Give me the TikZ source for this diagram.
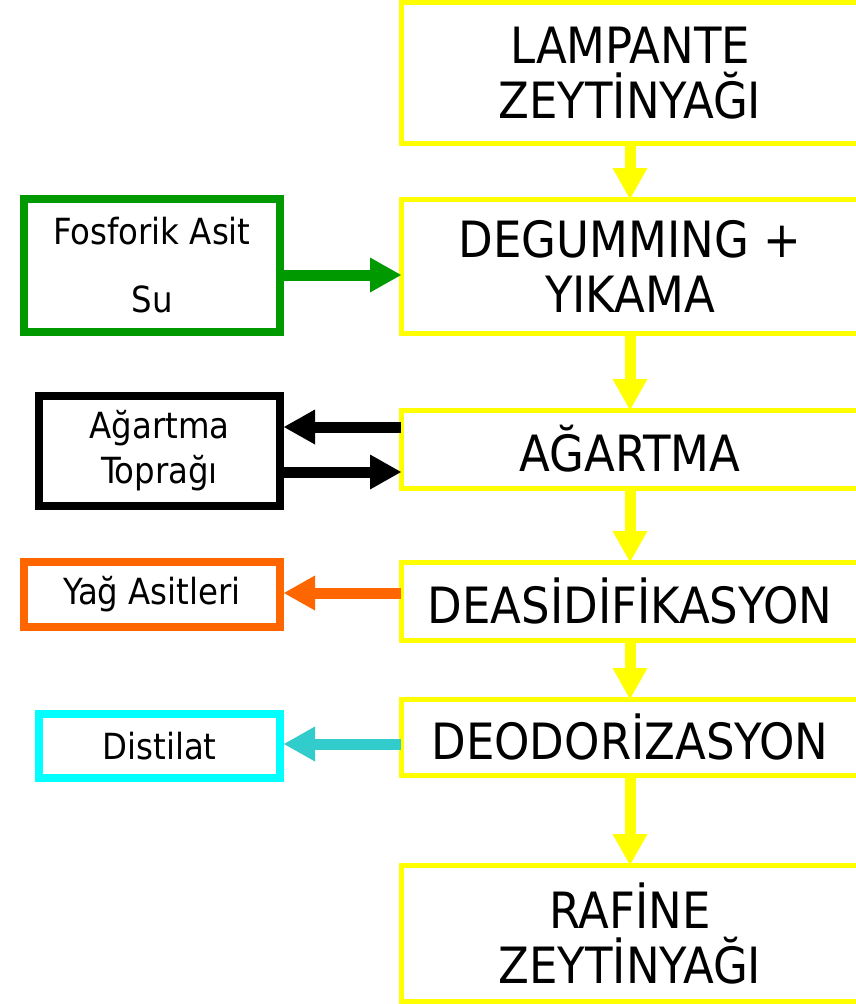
\documentclass[tikz,border=0pt]{standalone}
\usepackage{fontspec}
\setmainfont{DejaVu Sans Condensed}
\usetikzlibrary{arrows.meta, positioning, calc}
\definecolor{stepyellow}{RGB}{255,255,0}
\definecolor{acidgreen}{RGB}{0,153,0}
\definecolor{fatorange}{RGB}{255,102,0}
\definecolor{distcyan}{RGB}{0,255,255}
\definecolor{distteal}{RGB}{51,204,204}

\begin{document}
\begin{tikzpicture}[x=1pt, y=1pt, >={Triangle[length=31pt, width=35pt, line width=0pt]}]
  \tikzstyle{process} = [rectangle, draw=stepyellow, line width=5pt, fill=white, minimum width=458pt, outer sep=0pt, inner sep=0pt, align=center, font=\fontsize{50}{55}\selectfont]
  \tikzstyle{input} = [rectangle, line width=8pt, fill=white, outer sep=0pt, inner sep=0pt, align=center, font=\fontsize{36}{45}\selectfont]
  \tikzstyle{flow} = [->, line width=11pt]

  \clip (0,0) rectangle (856,-1004);

  \node [process, minimum height=140.5pt] (lampante) at (630,-72.75) {LAMPANTE\\ZEYTİNYAĞI};
  \node [process, minimum height=134pt, below=56pt of lampante] (degumming) {DEGUMMING +\\YIKAMA};
  \node [process, minimum height=78pt, below=77pt of degumming] (bleaching) {AĞARTMA};
  \node [process, minimum height=78pt, below=74pt of bleaching] (deacid) {DEASİDİFİKASYON};
  \node [process, minimum height=76pt, below=59pt of deacid] (deodor) {DEODORİZASYON};
  \node [process, minimum height=136pt, below=90pt of deodor] (refined) {RAFİNE\\ZEYTİNYAĞI};

  \node [input, draw=acidgreen, minimum width=256pt, minimum height=133pt, left=121pt of degumming, yshift=0.5pt] (acid) {Fosforik Asit\\[23pt]Su};
  \node [input, draw=black, minimum width=241pt, minimum height=110pt, left=121pt of bleaching, yshift=-2pt] (earth) {Ağartma\\Toprağı};
  \node [input, draw=fatorange, minimum width=256pt, minimum height=65pt, left=121pt of deacid, yshift=6.5pt] (fatty) {Yağ Asitleri};
  \node [input, draw=distcyan, minimum width=241pt, minimum height=64pt, left=121pt of deodor, yshift=-9pt] (distil) {Distilat};

  \draw [flow, stepyellow] (lampante) -- (degumming);
  \draw [flow, stepyellow] (degumming) -- (bleaching);
  \draw [flow, stepyellow] (bleaching) -- (deacid);
  \draw [flow, stepyellow] (deacid) -- (deodor);
  \draw [flow, stepyellow] (deodor) -- (refined);

  \draw [flow, acidgreen] ($(acid.east)+(0,-9.5)$) -- ($(degumming.west)+(0,-9)$);
  \draw [flow, black] ($(bleaching.west)+(0,22)$) -- ($(earth.east)+(4,24)$);
  \draw [flow, black] ($(earth.east)+(0,-21)$) -- ($(bleaching.west)+(0,-23)$);
  \draw [flow, fatorange] ($(deacid.west)+(0,8)$) -- ($(fatty.east)+(4,1.5)$);
  \draw [flow, distteal] ($(deodor.west)+(0,-7)$) -- ($(distil.east)+(4,2)$);
\end{tikzpicture}
\end{document}
